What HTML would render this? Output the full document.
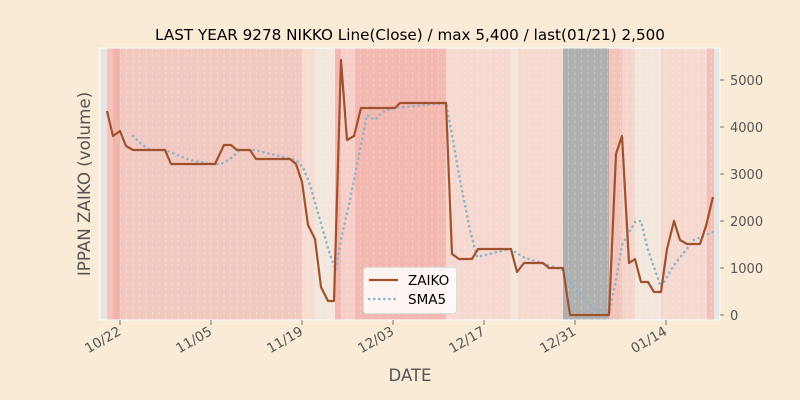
<!DOCTYPE html>
<html><head><meta charset="utf-8"><style>
body{margin:0;background:#faebd7;}
svg{display:block;font-family:"DejaVu Sans","Liberation Sans",sans-serif;}
</style></head><body>
<svg width="800" height="400" viewBox="0 0 800 400" xmlns="http://www.w3.org/2000/svg">
<rect width="800" height="400" fill="#faebd7"/>
<defs>
<pattern id="dl" x="0" y="0" width="6.5" height="6" patternUnits="userSpaceOnUse">
<line x1="3" y1="0" x2="3" y2="3" stroke="#ffffff" stroke-opacity="0.35" stroke-width="0.8"/>
</pattern>
<clipPath id="cp"><rect x="100" y="48" width="620" height="272"/></clipPath>
</defs>
<rect x="100" y="48" width="620" height="272" fill="#f0c8c0"/>
<g>
<rect x="100" y="48" width="7" height="272" fill="#e5e5e5"/>
<rect x="107" y="48" width="6" height="272" fill="#f4c4bc"/>
<rect x="113" y="48" width="7" height="272" fill="#f2b5ac"/>
<rect x="120" y="48" width="182" height="272" fill="#f1c9c1"/>
<rect x="302" y="48" width="13" height="272" fill="#f5ddd4"/>
<rect x="315" y="48" width="20" height="272" fill="#f3e6dc"/>
<rect x="335" y="48" width="6" height="272" fill="#f4b8b0"/>
<rect x="341" y="48" width="14" height="272" fill="#f5cfc8"/>
<rect x="355" y="48" width="91" height="272" fill="#f3b8b0"/>
<rect x="446" y="48" width="65" height="272" fill="#f5d8d0"/>
<rect x="511" y="48" width="7" height="272" fill="#f3e6dc"/>
<rect x="518" y="48" width="45" height="272" fill="#f5d8d0"/>
<rect x="563" y="48" width="46" height="272" fill="#b0b0b0"/>
<rect x="609" y="48" width="13" height="272" fill="#f3c4bc"/>
<rect x="622" y="48" width="13" height="272" fill="#f5d4cc"/>
<rect x="635" y="48" width="26" height="272" fill="#f3e6dc"/>
<rect x="661" y="48" width="46" height="272" fill="#f5d8d0"/>
<rect x="707" y="48" width="7" height="272" fill="#f3c0b8"/>
<rect x="714" y="48" width="6" height="272" fill="#e5e5e5"/>
<rect x="120" y="48" width="594" height="272" fill="url(#dl)"/>
</g>
<g clip-path="url(#cp)">
<polyline fill="none" stroke="#8fb4c8" stroke-width="2.6" stroke-dasharray="0.1,5" stroke-linecap="round" points="133,136 140,143 150,150 165,150 190,160 210,164 221,164 230,159 240,150 255,150 275,155 296,160 303,167 310,185 320,220 330,255 336,270 341,240 350,200 360,150 367,115 375,120 382,112 395,108 446,103 452,135 460,180 470,230 477,257 485,255 510,249 525,258 545,264 563,270 570,283 590,305 604,315 609,313 616,280 622,245 635,222 641,221 648,250 661,287 674,265 694,240 713,232"/>
<polyline fill="none" stroke="#a0522d" stroke-width="2.2" stroke-linejoin="round" points="107,111 113,136 120,131 126,146 133,150 165,150 171,164 215,164 224,145 231,145 237,150 250,150 256,159 290,159 296,164 302,182 308,225 315,239 321,287 328,301 334,301 341,60 347,140 354,136 361,108 395,108 400,103 446,103 452,254 459,259 472,259 478,249 511,249 517,272 524,263 543,263 549,268 563,268 570,315 609,315 616,154 622,136 629,263 635,259 641,282 648,282 654,292 661,292 667,249 674,221 680,240 687,244 700,244 706,226 713,197"/>
</g>
<rect x="100" y="48" width="620" height="272" fill="none" stroke="#ffffff" stroke-width="1"/>
<g stroke="#555" stroke-width="0.8">
<line x1="720" y1="80" x2="724" y2="80"/><line x1="720" y1="127" x2="724" y2="127"/><line x1="720" y1="174" x2="724" y2="174"/><line x1="720" y1="221" x2="724" y2="221"/><line x1="720" y1="268" x2="724" y2="268"/><line x1="720" y1="315" x2="724" y2="315"/>
<line x1="120" y1="320" x2="120" y2="325"/><line x1="211" y1="320" x2="211" y2="325"/><line x1="302" y1="320" x2="302" y2="325"/><line x1="393" y1="320" x2="393" y2="325"/><line x1="484" y1="320" x2="484" y2="325"/><line x1="575" y1="320" x2="575" y2="325"/><line x1="666" y1="320" x2="666" y2="325"/>
</g>
<g font-size="13" fill="#555">
<text x="730" y="85">5000</text><text x="730" y="132">4000</text><text x="730" y="179">3000</text><text x="730" y="226">2000</text><text x="730" y="273">1000</text><text x="730" y="320">0</text>
</g>
<g font-size="13.5" fill="#555" text-anchor="end">
<text transform="translate(122,334) rotate(-30)">10/22</text>
<text transform="translate(213,334) rotate(-30)">11/05</text>
<text transform="translate(304,334) rotate(-30)">11/19</text>
<text transform="translate(395,334) rotate(-30)">12/03</text>
<text transform="translate(486,334) rotate(-30)">12/17</text>
<text transform="translate(577,334) rotate(-30)">12/31</text>
<text transform="translate(668,334) rotate(-30)">01/14</text>
</g>
<text x="410" y="40" font-size="15.2" text-anchor="middle" fill="#000">LAST YEAR 9278 NIKKO Line(Close) / max 5,400 / last(01/21) 2,500</text>
<text x="410" y="381" font-size="16.5" text-anchor="middle" fill="#555">DATE</text>
<text transform="translate(90,184) rotate(-90)" font-size="16.7" text-anchor="middle" fill="#555">IPPAN ZAIKO (volume)</text>
<rect x="363.5" y="267.5" width="93" height="46" rx="3" fill="#ffffff" fill-opacity="0.85" stroke="#ddd"/>
<line x1="369" y1="280" x2="398" y2="280" stroke="#a0522d" stroke-width="2.2"/>
<line x1="369" y1="299" x2="398" y2="299" stroke="#8fb4c8" stroke-width="2.6" stroke-dasharray="0.1,5" stroke-linecap="round"/>
<text x="408" y="285" font-size="13.5" fill="#000">ZAIKO</text>
<text x="408" y="304" font-size="13.5" fill="#000">SMA5</text>
</svg>
</body></html>
